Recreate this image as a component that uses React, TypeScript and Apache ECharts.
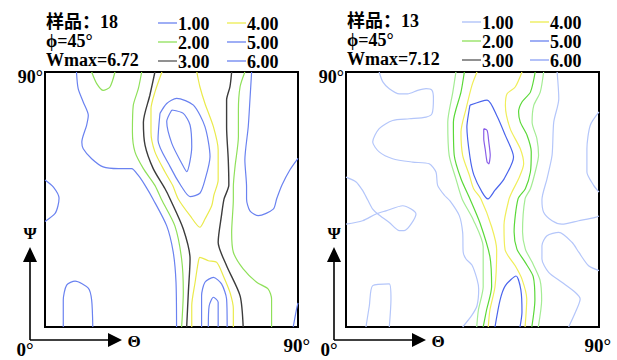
import React, { useEffect, useRef } from "react";
import * as echarts from "echarts";

type P = [number, number];

// ---------- Panel (a) contours: [Θ, Ψ] in degrees ----------
const aBlue1Main: P[] = [[11.2,90],[11.8,84.1],[13.6,79.4],[15.4,74.7],[14.8,71.2],[13.1,65.3],[13.6,62.9],[16.6,59.4],[20.7,56.5],[26.1,55.9],[30.8,55.9],[33.2,53.5],[35.6,50.0],[38.4,45.2],[43.3,35.7],[45.6,26.5],[46.6,15.9],[46.8,0]];
const aGreenTopBump: P[] = [[16.6,90],[18.4,85.9],[20.7,83.5],[23.1,84.7],[24.9,90]];
const aBlue1LeftBump: P[] = [[0,51.9],[3.0,49.4],[5.0,45.5],[4.6,42.7],[3.6,40.1],[0,37.2]];
const aGreenLeft: P[] = [[34.4,90],[33.2,84.1],[31.4,78.2],[31.1,68.8],[32.0,61.8],[35.0,55.9],[39.1,50.0],[41.5,44.9],[46.2,35.7],[48.6,24.0],[49.2,12.4],[48.6,0]];
const aBlackLeft: P[] = [[39.1,90],[37.3,81.8],[35.0,72.3],[35.6,64.1],[38.5,55.9],[42.7,48.8],[44.5,45.2],[49.2,34.6],[51.6,24.0],[51.0,12.4],[50.4,0]];
const aYellowTop: P[] = [[41.6,90],[39.1,82.9],[37.7,77.0],[37.7,68.8],[39.1,61.8],[42.7,54.7],[45.4,50.0],[47.4,45.2],[51.6,39.3],[55.1,35.2],[56.9,38.1],[59.3,42.8],[60.1,46.6],[61.6,51.9],[61.6,62.5],[59.9,70.7],[56.9,78.9],[55.1,84.8],[54.0,90]];
const aBlue5Ellipse: P[] = [[40.9,75.4],[43.3,78.9],[46.8,80.7],[52.8,78.3],[56.9,70.7],[58.7,60.1],[56.9,51.9],[55.1,47.2],[51.6,46.0],[48.6,49.5],[44.5,56.6],[40.2,66.0],[40.9,75.4]];
const aBlue6Ellipse: P[] = [[45.1,76.6],[49.2,75.4],[51.6,71.3],[52.2,63.6],[50.4,54.8],[48.6,57.8],[45.1,64.8],[43.3,72.5],[45.1,76.6]];
const aYellowBottom: P[] = [[52.2,0],[52.2,7.5],[53.4,15.8],[54.5,22.8],[55.1,24.6],[58.1,23.4],[61.1,22.8],[63.4,18.1],[65.8,12.2],[67.0,6.4],[67.0,0]];
const aBlue5Bottom: P[] = [[55.7,0],[55.7,11.0],[56.9,15.8],[59.9,17.5],[62.8,15.2],[64.6,9.9],[64.8,0]];
const aBlue6Bottom: P[] = [[58.1,0],[58.4,7.5],[59.9,10.5],[61.6,8.7],[61.6,0]];
const aBlackRight: P[] = [[66.4,90],[65.8,84.8],[64.6,80.1],[64.6,70.7],[65.2,58.9],[65.4,50.1],[63.7,45.2],[62.8,39.5],[61.6,29.9],[64.6,21.6],[69.4,11.0],[70.5,0]];
const aGreenRight: P[] = [[71.1,90],[69.4,84.8],[68.8,76.6],[68.8,67.2],[67.6,56.6],[67.0,49.5],[67.0,45.2],[66.4,33.4],[67.0,26.4],[70.5,20.5],[75.3,15.8],[79.4,13.4],[80.6,9.9],[80.6,0]];
const aBlue1Right: P[] = [[73.5,90],[72.9,80.1],[72.3,70.7],[71.1,58.9],[71.7,49.5],[71.7,45.2],[72.9,41.0],[75.9,39.3],[81.2,41.6],[82.4,45.2],[84.3,50.1],[87.1,55.4],[90,59.5]];
const aBlue1Corner: P[] = [[90,8.5],[89.5,6.4],[88.3,0]];
const aBlue1BottomBump: P[] = [[6.5,0],[6.5,9.5],[7.7,14.8],[10.7,16.2],[15.4,13.7],[16.6,9.5],[17.0,0]];

// ---------- Panel (b) contours ----------
const bPale1Left: P[] = [[11.8,90],[13.1,86.5],[15.4,84.1],[19.0,82.3],[21.9,82.3],[25.5,83.5],[28.5,84.1],[30.6,83.5],[31.1,80.6],[30.6,75.3],[28.5,74.1],[22.5,73.5],[16.6,72.9],[11.8,70.0],[9.5,65.3],[11.8,61.8],[16.6,59.4],[23.7,58.2],[29.6,57.6],[32.0,54.7],[32.6,50.0],[35.0,46.5],[37.0,44.5],[40.3,39.3],[41.5,33.4],[41.7,26.4],[42.7,24.0],[44.8,21.9],[46.6,16.9],[47.2,13.4],[46.6,7.5],[44.8,4.2],[41.5,0]];
const bPale1Saddle: P[] = [[0,52.9],[3.6,51.2],[5.9,48.2],[7.7,44.9],[9.5,41.6],[11.3,39.9],[15.4,36.9],[19.0,34.0],[20.7,34.0],[24.9,39.9],[20.2,42.8],[14.2,41.0],[10.7,39.9],[5.9,37.5],[0,36.3]];
const bPale1BottomBump: P[] = [[7.1,0],[8.3,7.5],[9.5,14.6],[15.4,15.2],[16.0,9.9],[15.4,0]];
const bPaleGreenLeft: P[] = [[39.1,90],[38.0,82.9],[36.2,72.3],[36.7,60.6],[39.1,52.3],[41.3,45.2],[45.3,37.8],[48.8,28.3],[48.8,14.2],[47.1,6.0],[46.5,0]];
const bGreenLeft: P[] = [[42.1,90],[40.9,82.9],[38.2,72.3],[38.5,60.6],[40.9,52.3],[44.1,45.2],[47.7,36.6],[51.2,24.8],[51.8,14.2],[50.0,6.0],[48.8,0]];
const bYellowLeft: P[] = [[46.6,90],[44.8,85.3],[42.7,77.0],[40.9,68.8],[41.5,60.6],[43.9,53.5],[45.4,48.8],[48.0,45.2],[51.8,35.4],[53.6,27.2],[53.0,14.2],[51.2,6.0],[50.6,0]];
const bBlue5Ellipse: P[] = [[44.1,78.3],[50.2,80.1],[53.7,74.5],[56.6,67.8],[59.6,60.0],[56.2,52.2],[53.0,48.3],[50.5,45.2],[48.4,47.6],[45.5,53.6],[44.1,60.0],[43.0,70.6],[43.8,76.6],[44.1,78.3]];
const bPurple6: P[] = [[49.0,70.0],[50.2,69.4],[50.8,65.3],[51.3,60.6],[50.8,57.6],[50.2,58.2],[49.5,62.9],[49.0,66.5],[49.0,70.0]];
const bBlue5Bottom: P[] = [[53.0,0],[54.8,9.5],[56.7,14.6],[60.5,18.0],[62.2,13.1],[62.6,5.3],[61.9,0]];
const bYellowRight: P[] = [[62.6,90],[60.2,84.7],[57.3,82.3],[56.7,78.2],[58.4,70.0],[62.0,62.9],[63.2,57.6],[61.4,52.3],[59.0,47.6],[58.0,45.2],[56.2,36.0],[56.6,27.2],[60.2,21.6],[62.6,16.9],[64.3,9.9],[63.7,0]];
const bGreenRight: P[] = [[67.3,90],[65.6,82.9],[62.6,79.4],[61.4,75.9],[62.0,72.3],[64.4,67.7],[65.9,61.8],[65.6,54.7],[63.8,48.8],[61.2,45.2],[59.8,33.5],[60.8,27.5],[63.7,22.9],[66.6,17.8],[67.2,9.5],[66.1,0]];
const bPaleGreenRight: P[] = [[70.3,90],[69.1,82.9],[66.8,78.2],[66.2,72.3],[67.9,66.5],[68.5,60.6],[67.3,54.7],[65.6,48.8],[63.7,45.2],[62.8,33.5],[63.8,27.5],[66.2,22.9],[69.0,16.6],[69.6,9.5],[68.4,0]];
const bPale1RightTop: P[] = [[75.1,90],[75.7,80.6],[73.9,72.3],[73.3,60.6],[71.5,52.3],[69.7,44.9],[70.3,40.5],[73.3,37.5],[76.8,36.3],[82.8,37.5],[88.7,38.7],[90,39.2]];
const bPale1RightBump: P[] = [[90,75.9],[86.9,71.2],[85.7,62.9],[85.7,54.7],[88.1,50.0],[90,47.6]];
const bPale1RightLow: P[] = [[90,19.9],[86.3,21.6],[82.8,26.4],[80.4,29.9],[75.7,33.4],[71.5,32.2],[69.7,28.7],[69.7,24.0],[72.1,19.3],[76.8,15.8],[81.6,12.2],[83.3,9.9],[81.6,5.2],[79.2,0]];

// ---------- Legend / header texts ----------
const legendLevels = ["1.00", "2.00", "3.00", "4.00", "5.00", "6.00"];
const legendColorsA = ["#6a82f0", "#8fe05a", "#555555", "#ecec50", "#6a82f0", "#6a82f0"];
const legendColorsB = ["#aabff8", "#8fe05a", "#555555", "#ecec50", "#6a82f0", "#8aa0f4"];
const headerA = ["样品：18", "ϕ=45°", "Wmax=6.72"];
const headerB = ["样品：13", "ϕ=45°", "Wmax=7.12"];

const FONT_FAMILY = "Liberation Serif, DejaVu Serif, Noto Sans CJK SC, serif";

const C = {
  aBlue: "#6a82f0",
  aGreen: "#8fe05a",
  aBlack: "#3c3c3c",
  aYellow: "#eaea4c",
  bPale: "#b4c6fa",
  bPaleGreen: "#a4ec94",
  bGreen: "#5ad838",
  bYellow: "#f0ee5a",
  bBlue: "#4a64ec",
  bPurple: "#8a5ee8",
};

function txt(x: number, y: number, text: string, size: number, align = "left", vAlign = "middle") {
  return {
    type: "text",
    x,
    y,
    silent: true,
    style: {
      text,
      x: 0,
      y: 0,
      fontFamily: FONT_FAMILY,
      fontSize: size,
      fontWeight: "bold",
      fill: "#000",
      align,
      textAlign: align,
      verticalAlign: vAlign,
      textVerticalAlign: vAlign,
    },
  };
}

function seg(x1: number, y1: number, x2: number, y2: number, color: string, w = 1.2) {
  return { type: "line", silent: true, shape: { x1, y1, x2, y2 }, style: { stroke: color, lineWidth: w } };
}

function tri(points: number[][]) {
  return { type: "polygon", silent: true, shape: { points }, style: { fill: "#000" } };
}

export default function App() {
  const ref = useRef<HTMLDivElement>(null);

  useEffect(() => {
    if (!ref.current) return;
    const chart = echarts.init(ref.current, undefined, { renderer: "svg" });

    const mk = (data: P[], g: number, color: string, width = 1.2) => ({
      type: "line",
      xAxisIndex: g,
      yAxisIndex: g,
      data,
      showSymbol: false,
      symbol: "none",
      smooth: 0.25,
      clip: true,
      silent: true,
      lineStyle: { color, width },
      z: 3,
    });

    const series = [
      mk(aBlue1Main, 0, C.aBlue),
      mk(aGreenTopBump, 0, C.aGreen),
      mk(aBlue1LeftBump, 0, C.aBlue),
      mk(aGreenLeft, 0, C.aGreen),
      mk(aBlackLeft, 0, C.aBlack, 1.4),
      mk(aYellowTop, 0, C.aYellow),
      mk(aBlue5Ellipse, 0, C.aBlue),
      mk(aBlue6Ellipse, 0, C.aBlue),
      mk(aYellowBottom, 0, C.aYellow),
      mk(aBlue5Bottom, 0, C.aBlue),
      mk(aBlue6Bottom, 0, C.aBlue),
      mk(aBlackRight, 0, C.aBlack, 1.4),
      mk(aGreenRight, 0, C.aGreen),
      mk(aBlue1Right, 0, C.aBlue),
      mk(aBlue1Corner, 0, C.aBlue),
      mk(aBlue1BottomBump, 0, C.aBlue),

      mk(bPale1Left, 1, C.bPale),
      mk(bPale1Saddle, 1, C.bPale),
      mk(bPale1BottomBump, 1, C.bPale),
      mk(bPaleGreenLeft, 1, C.bPaleGreen),
      mk(bGreenLeft, 1, C.bGreen),
      mk(bYellowLeft, 1, C.bYellow),
      mk(bBlue5Ellipse, 1, C.bBlue),
      mk(bPurple6, 1, C.bPurple),
      mk(bBlue5Bottom, 1, C.bBlue),
      mk(bYellowRight, 1, C.bYellow),
      mk(bGreenRight, 1, C.bGreen),
      mk(bPaleGreenRight, 1, C.bPaleGreen),
      mk(bPale1RightTop, 1, C.bPale),
      mk(bPale1RightBump, 1, C.bPale),
      mk(bPale1RightLow, 1, C.bPale),
    ];

    const axisBase = { type: "value", min: 0, max: 90, show: false };

    const graphics: any[] = [];
    const panels = [
      { left: 45, header: headerA, colors: legendColorsA, lx1: 158, lx2: 227, rows: [23, 42, 61], tag: "(a)", axX: 30, zeroX: 25, ninetyR: 310 },
      { left: 346, header: headerB, colors: legendColorsB, lx1: 462, lx2: 530, rows: [22, 41, 60], tag: "(b)", axX: 334, zeroX: 329, ninetyR: 611 },
    ];
    panels.forEach((p) => {
      p.header.forEach((h, i) => graphics.push(txt(p.left + 1, p.rows[i] - 1, h, 18)));
      legendLevels.forEach((lv, i) => {
        const col = i < 3 ? 0 : 1;
        const row = i % 3;
        const lx = col === 0 ? p.lx1 : p.lx2;
        const y = p.rows[row];
        graphics.push(seg(lx, y, lx + 19, y, p.colors[i], 1.3));
        graphics.push(txt(lx + 20, y + 1, lv, 18));
      });
      graphics.push(txt(p.left + 7, 92, p.tag, 17));
      graphics.push(txt(p.left - 2, 77, "90°", 18, "right"));
      // axes arrows
      const ax = p.axX;
      graphics.push(seg(ax, 340, ax, 260, "#000", 1.6));
      graphics.push(tri([[ax, 247], [ax - 7, 262], [ax + 7, 262]]));
      graphics.push(seg(ax, 340, ax + 80, 340, "#000", 1.6));
      graphics.push(tri([[ax + 92, 340], [ax + 78, 333], [ax + 78, 347]]));
      graphics.push(txt(ax, 233, "Ψ", 17, "center"));
      graphics.push(txt(ax + 104, 341, "Θ", 17, "center"));
      graphics.push(txt(p.zeroX, 349, "0°", 19, "center"));
      graphics.push(txt(p.ninetyR, 345, "90°", 19, "right"));
    });

    chart.setOption({
      animation: false,
      backgroundColor: "#fff",
      grid: [
        { left: 45, top: 72, width: 253, height: 255, show: true, borderColor: "#000", borderWidth: 2, backgroundColor: "#fff", z: 1 },
        { left: 346, top: 72, width: 253, height: 255, show: true, borderColor: "#000", borderWidth: 2, backgroundColor: "#fff", z: 1 },
      ],
      xAxis: [{ ...axisBase, gridIndex: 0 }, { ...axisBase, gridIndex: 1 }],
      yAxis: [{ ...axisBase, gridIndex: 0 }, { ...axisBase, gridIndex: 1 }],
      series,
      graphic: graphics,
    });

    return () => chart.dispose();
  }, []);

  return (
    <div
      ref={ref}
      style={{ position: "absolute", left: 0, top: 0, width: 617, height: 360, background: "#fff" }}
    />
  );
}
